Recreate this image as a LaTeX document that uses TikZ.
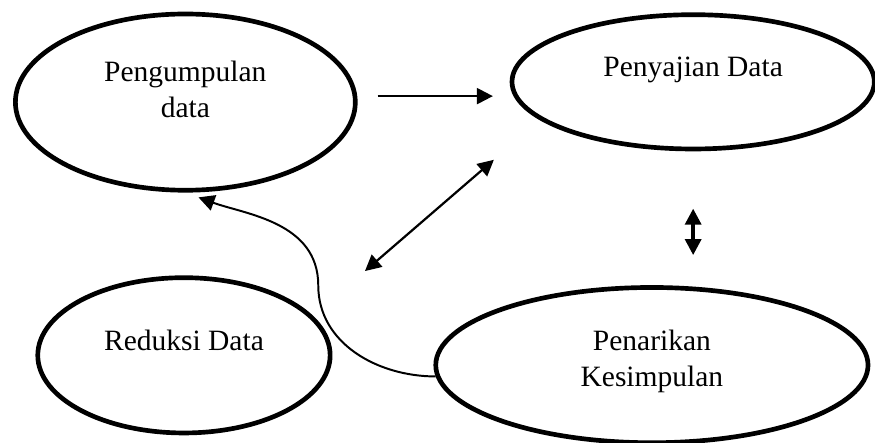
\documentclass[tikz,border=0pt]{standalone}
\usepackage{fontspec}
\setmainfont{Liberation Serif}
\usetikzlibrary{arrows.meta,positioning,shapes.geometric}
\tikzset{
	>={Triangle[length=6.5pt,width=6.5pt]},
	every edge/.style={draw=black, line width=0.9pt},
	proses/.style = {
			ellipse,
			draw,
			line width = 1.9pt,
			inner sep  = 0pt,
		}
}

\begin{document}
\begin{tikzpicture}
	[font=\fontsize{12}{14.5}\selectfont,
		% STYLES
		% The text style sets the words a little above the centre of an ellipse
		teks/.style={align=center, inner sep=0pt}]

	\useasboundingbox (0,0) rectangle (12.51,-6.32);

	% Draw ellipses
	\node [proses, minimum width=4.86cm, minimum height=2.52cm,
		label={[teks, yshift=0.18cm]center:Pengumpulan\\data}] (a) at (2.65,-1.46) {};
	\node [proses, minimum width=5.18cm, minimum height=1.92cm,
		label={[teks, yshift=0.17cm]center:Penyajian Data}] (b) at (9.91,-1.17) {};
	\node [proses, minimum width=4.18cm, minimum height=2.22cm,
		label={[teks, yshift=0.22cm]center:Reduksi Data}] (c) at (2.63,-5.08) {};
	\node [proses, minimum width=6.18cm, minimum height=2.22cm,
		label={[teks, yshift=0.05cm]center:Penarikan\\Kesimpulan}] (d) at (9.32,-5.22) {};

	\coordinate (belok) at (4.55,-4.08);

	\path[->]
	(a.2) edge[shorten <=0.29cm, shorten >=0.24cm] (a.2 -| b.west);

	\path[<->]
	(b.194) edge[shorten <=0.87cm, shorten >=0.98cm] (c.17)
	(b.south) edge[line width=1.4pt, shorten <=0.82cm, shorten >=0.43cm] (b.south |- d.north);

	\draw[->, line width=0.8pt, shorten >=0.2cm]
	(d.183) to[out=180,in=-90] (belok) to[out=90,in=-20] (a.south);
\end{tikzpicture}
\end{document}
